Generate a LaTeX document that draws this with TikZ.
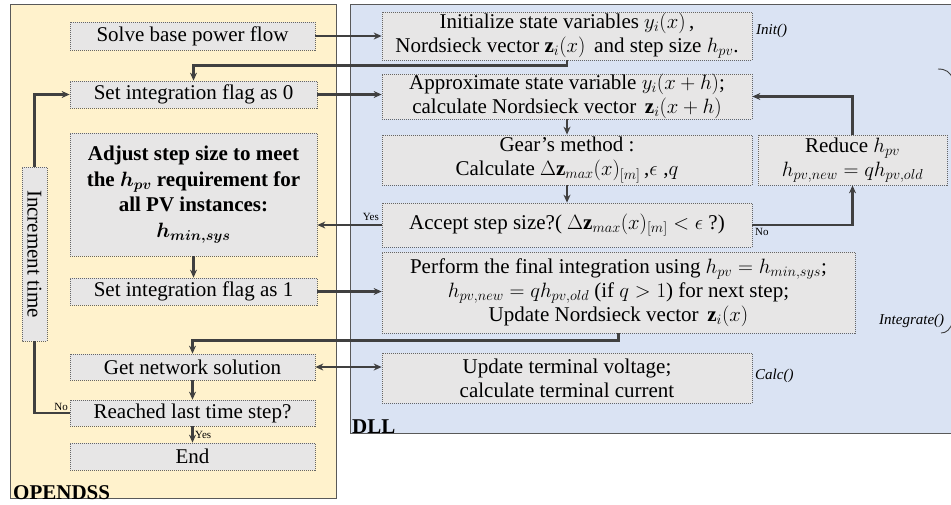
\documentclass[tikz,border=0pt]{standalone}
\usepackage{amsmath}
\usepackage{bm}
\usepackage{fontspec}
\setmainfont{Liberation Serif}
\usetikzlibrary{arrows.meta,calc}
\definecolor{ypanel}{HTML}{FFF2CC}
\definecolor{bpanel}{HTML}{DAE3F3}
\definecolor{boxgray}{HTML}{E7E6E6}
\definecolor{linegray}{HTML}{404040}
\begin{document}
\begin{tikzpicture}[x=1pt,y=-1pt,
  box/.style={draw=gray!80!black, dash pattern=on 1pt off 1pt, line width=0.7pt, fill=boxgray, inner sep=0pt, align=center, font=\fontsize{21}{24}\selectfont},
  arr/.style={draw=linegray, line width=2.3pt, -{Stealth[length=8pt,width=7pt]}},
  darr/.style={draw=linegray, line width=2.3pt, {Stealth[length=8pt,width=7pt]}-{Stealth[length=8pt,width=7pt]}},
  small/.style={font=\fontsize{11}{12}\selectfont, inner sep=1pt},
  fname/.style={font=\fontsize{15}{17}\selectfont\itshape, inner sep=1pt},
  panel/.style={draw=gray!70!black, line width=1pt}]
\useasboundingbox (0,0) rectangle (951,504);
\begin{scope}
\clip (0,0) rectangle (951,504);
% panels
\fill[ypanel, panel] (10,4) rectangle (336,498);
\fill[bpanel, panel] (350,4) rectangle (960,433);
\node[anchor=south west, inner sep=0pt, font=\fontsize{21}{24}\selectfont\bfseries] (lopen) at (13,500) {OPENDSS};
\node[anchor=south west, inner sep=0pt, font=\fontsize{21}{24}\selectfont\bfseries] (ldll) at (352,434) {DLL};

% OPENDSS boxes
\node[box, minimum width=245pt, minimum height=28pt] (solve) at (192.5,36) {Solve base power flow};
\node[box, minimum width=247pt, minimum height=27pt] (flag0) at (193.5,94.5) {Set integration flag as 0};
\node[box, minimum width=247pt, minimum height=123pt, font=\fontsize{21}{25.5}\selectfont\bfseries] (adjust) at (193.5,194.5) {Adjust step size to meet\\the $\bm{h_{pv}}$ requirement for\\all PV instances:\\$\bm{h_{min,sys}}$};
\node[box, minimum width=174pt, minimum height=25pt, rotate=-90] (incr) at (34.5,254) {Increment time};
\node[box, minimum width=247pt, minimum height=27pt] (flag1) at (193.5,291.5) {Set integration flag as 1};
\node[box, minimum width=245pt, minimum height=26pt] (getnet) at (192.5,367) {Get network solution};
\node[box, minimum width=245pt, minimum height=26pt] (reached) at (192.5,413) {Reached last time step?};
\node[box, minimum width=245pt, minimum height=27pt] (endb) at (192.5,456.5) {End};

% DLL boxes
\node[box, minimum width=370pt, minimum height=48pt] (init) at (567,36) {Initialize state variables $y_i(x)$\,,\\Nordsieck vector $\mathbf{z}_i(x)$\, and step size $h_{pv}$.};
\node[box, minimum width=370pt, minimum height=43pt] (approx) at (567,96.5) {Approximate state variable $y_i(x+h)$;\\calculate Nordsieck vector \,$\mathbf{z}_i(x+h)$};
\node[box, minimum width=370pt, minimum height=50pt] (gear) at (567,160) {Gear's method :\\Calculate $\Delta\mathbf{z}_{max}(x)_{[m]}$\,,$\epsilon$\;,$q$};
\node[box, minimum width=370pt, minimum height=44pt] (accept) at (567,225) {Accept step size?( $\Delta\mathbf{z}_{max}(x)_{[m]}<\epsilon$ ?)};
\node[box, minimum width=189pt, minimum height=50pt] (reduce) at (852.5,160) {Reduce $h_{pv}$\\$h_{pv,new}=qh_{pv,old}$};
\node[box, minimum width=473pt, minimum height=81pt] (perform) at (618.5,292.5) {Perform the final integration using $h_{pv}=h_{min,sys}$;\\$h_{pv,new}=qh_{pv,old}$ (if $q>1$) for next step;\\Update Nordsieck vector \,$\mathbf{z}_i(x)$};
\node[box, minimum width=370pt, minimum height=50pt] (update) at (567,378) {Update terminal voltage;\\calculate terminal current};

% function names
\node[fname, anchor=west] (finit) at (755,31) {Init()};
\node[fname, anchor=west] (fint) at (878,321) {Integrate()};
\node[fname, anchor=west] (fcalc) at (754,376) {Calc()};

% brace tips
\draw[linegray, line width=0.9pt] (938,69) .. controls (946,69) and (950,72) .. (953,79);
\draw[linegray, line width=0.9pt] (941,333) .. controls (947,333) and (950,329) .. (953,322);

% connectors
\draw[arr] (solve.east) -- (solve.east -| init.west);
\draw[arr] (init.south) -- ++(0,5) -| (flag0.north);
\draw[arr] (flag0.east) -- (flag0.east -| approx.west);
\draw[arr] (approx.south) -- (gear.north);
\draw[arr] (gear.south) -- (accept.north);
\draw[arr] (accept.west) -- (accept.west -| adjust.east);
\draw[arr] (accept.east) -| (reduce.south);
\draw[arr] (reduce.north) |- (approx.east);
\draw[arr] (adjust.south) -- (flag1.north);
\draw[arr] (flag1.east) -- (flag1.east -| perform.west);
\draw[arr] (perform.south) -- ++(0,7) -| (getnet.north);
\draw[darr] (getnet.east) -- (getnet.east -| update.west);
\draw[arr] (getnet.south) -- (reached.north);
\draw[arr] (reached.south) -- (endb.north);
\draw[draw=linegray, line width=2.3pt] (reached.west) -| (incr.east);
\draw[arr] (incr.west) |- (flag0.west);

% yes/no labels
\node[small, anchor=south east] (yes1) at (380,222) {Yes};
\node[small, anchor=north west] (no1) at (754,227) {No};
\node[small, anchor=south east] (no2) at (69,412) {No};
\node[small, anchor=west] (yes2) at (194,435) {Yes};
\end{scope}
\end{tikzpicture}
\end{document}
